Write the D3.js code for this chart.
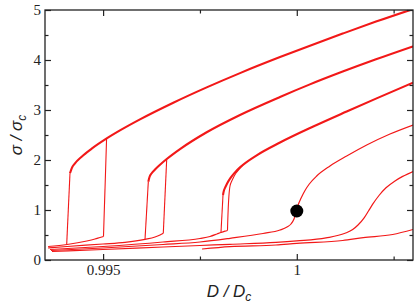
<!DOCTYPE html>
<html>
<head>
<meta charset="utf-8">
<script src="https://cdn.jsdelivr.net/npm/d3@7/dist/d3.min.js"></script>
<style>
    body { margin: 0; background: #fff; }
</style>
</head>
<body>
<div id="chart"></div>
<script>
// points are [D/Dc, sigma/sigma_c]

// loop 1
let lower1 = [[0.99358, 0.27], [0.99407, 0.31], [0.99458, 0.38], [0.99479, 0.42], [0.99492, 0.45], [0.99501, 0.47]];
let jumpUp1 = [[0.99501, 0.47], [0.99509, 2.43]];
let jumpDown1 = [[0.99406, 0.31], [0.994145, 1.734]];
let upper1 = [[0.994145, 1.734], [0.994189, 1.834], [0.994274, 1.933], [0.994447, 2.067], [0.994706, 2.227],
    [0.995093, 2.431], [0.99548, 2.611], [0.995952, 2.812], [0.996812, 3.145], [0.997674, 3.452],
    [0.998534, 3.738], [0.999567, 4.058], [1.000323, 4.281], [1.001185, 4.528], [1.002045, 4.768], [1.003, 5.019]];

// loop 2
let lower2 = [[0.99358, 0.24], [0.99407, 0.27], [0.994997, 0.32], [0.995565, 0.354], [0.996082, 0.414],
    [0.99634, 0.46], [0.996469, 0.5], [0.996554, 0.534]];
let jumpUp2 = [[0.996554, 0.534], [0.996642, 2.019]];
let jumpDown2 = [[0.996082, 0.414], [0.996167, 1.566]];
let upper2 = [[0.996167, 1.566], [0.996198, 1.66], [0.996249, 1.73], [0.99634, 1.81], [0.996469, 1.905],
    [0.996642, 2.019], [0.996985, 2.218], [0.997674, 2.555], [0.998534, 2.901], [0.999567, 3.261],
    [1.000323, 3.507], [1.001185, 3.768], [1.002045, 4.014], [1.003, 4.273]];

// loop 3
let lower3 = [[0.993629, 0.21], [0.994997, 0.27], [0.996546, 0.36], [0.997501, 0.43], [0.997759, 0.47],
    [0.99794, 0.52], [0.998043, 0.55], [0.998147, 0.576], [0.998211, 0.59]];
let jumpUp3 = [[0.998211, 0.59], [0.998276, 1.48], [0.998327, 1.59], [0.998431, 1.74], [0.998611, 1.9]];
let jumpDown3 = [[0.998043, 0.55], [0.998095, 1.3]];
let upper3 = [[0.998095, 1.3], [0.998116, 1.38], [0.998147, 1.442], [0.998198, 1.526], [0.998276, 1.628],
    [0.998405, 1.753], [0.998534, 1.853], [0.998965, 2.094], [0.999567, 2.35], [1.000426, 2.67],
    [1.001288, 2.97], [1.002045, 3.228], [1.003, 3.546]];

// single valued curves
let curve4 = [[0.993655, 0.19], [0.994997, 0.24], [0.996546, 0.31], [0.997501, 0.36], [0.998276, 0.434],
    [0.999128, 0.53], [0.999567, 0.6], [0.999747, 0.66], [0.99985, 0.72], [0.999928, 0.82], [0.999993, 0.98],
    [1.000044, 1.12], [1.000109, 1.234], [1.000212, 1.39], [1.000323, 1.52], [1.000514, 1.68], [1.000857, 1.88],
    [1.001288, 2.08], [1.001805, 2.3], [1.002406, 2.52], [1.003, 2.7]];
let curve5 = [[0.993681, 0.17], [0.994997, 0.21], [0.996546, 0.26], [0.997501, 0.29], [0.998276, 0.314],
    [0.999463, 0.352], [0.999998, 0.382], [1.000754, 0.442], [1.001245, 0.534], [1.001443, 0.608], [1.00158, 0.7],
    [1.001743, 0.848], [1.001851, 0.98], [1.00196, 1.116], [1.002122, 1.29], [1.002303, 1.444], [1.002535, 1.582],
    [1.002734, 1.672], [1.003, 1.77]];
let curve6 = [[0.997553, 0.22], [0.998276, 0.266], [0.999463, 0.3], [1.0, 0.334], [1.001185, 0.39],
    [1.001717, 0.446], [1.002476, 0.51], [1.003, 0.61]];

let critical = [[1.0, 0.98]];

let xMajor = [0.995, 1.0];
let xMinor = [0.9975, 1.0025];
let yMajor = [0, 1, 2, 3, 4, 5];
let yMinor = [0.5, 1.5, 2.5, 3.5, 4.5];

let width = 416;
let height = 305;
let mLeft = 45, mRight = 413, mTop = 10, mBottom = 260;

let svg = d3.select("#chart").append("svg")
    .attr("width", width)
    .attr("height", height);

let x = d3.scaleLinear().domain([0.9935, 1.003]).range([mLeft, mRight]);
let y = d3.scaleLinear().domain([0, 5]).range([mBottom, mTop]);

svg.append("clipPath").attr("id", "plot-clip")
    .append("rect")
    .attr("x", mLeft).attr("y", mTop)
    .attr("width", mRight - mLeft).attr("height", mBottom - mTop);

let smooth = d3.line().x(d => x(d[0])).y(d => y(d[1])).curve(d3.curveMonotoneX);
let straight = d3.line().x(d => x(d[0])).y(d => y(d[1])).curve(d3.curveCatmullRom.alpha(0.5));

let plot = svg.append("g").attr("clip-path", "url(#plot-clip)");

let branches = [
    {pts: lower1, line: smooth, w: 1.2}, {pts: upper1, line: smooth, w: 2.1},
    {pts: jumpUp1, line: straight, w: 1.1}, {pts: jumpDown1, line: straight, w: 1.1},
    {pts: lower2, line: smooth, w: 1.2}, {pts: upper2, line: smooth, w: 2.1},
    {pts: jumpUp2, line: straight, w: 1.1}, {pts: jumpDown2, line: straight, w: 1.1},
    {pts: lower3, line: smooth, w: 1.2}, {pts: upper3, line: smooth, w: 2.1},
    {pts: jumpUp3, line: straight, w: 1.1}, {pts: jumpDown3, line: straight, w: 1.1},
    {pts: curve4, line: smooth, w: 1.2}, {pts: curve5, line: smooth, w: 1.2}, {pts: curve6, line: smooth, w: 1.2}
];

plot.selectAll("path.branch")
    .data(branches)
    .enter()
    .append("path")
    .classed("branch", true)
    .attr("d", d => d.line(d.pts))
    .attr("fill", "none")
    .attr("stroke", "#f21818")
    .attr("stroke-width", d => d.w)
    .attr("stroke-linejoin", "round");

svg.selectAll("circle")
    .data(critical)
    .enter()
    .append("circle")
    .attr("cx", d => x(d[0]))
    .attr("cy", d => y(d[1]))
    .attr("r", 6.5)
    .style("fill", "#000");

// axes, ticks pointing inward
function tickAxis(axis, pos, values, size, labels) {
    let g = svg.append("g")
        .attr("transform", pos)
        .call(axis.tickValues(values).tickSizeInner(-size).tickSizeOuter(0)
            .tickPadding(labels ? 4 : 0)
            .tickFormat(labels ? labels : () => ""));
    g.select(".domain").remove();
    g.selectAll(".tick line").attr("stroke", "#222").attr("stroke-width", 1.2);
    g.selectAll(".tick text")
        .style("font-family", "'Liberation Serif', 'DejaVu Serif', serif")
        .style("font-size", "15px")
        .style("fill", "#222");
    return g;
}

let xFmt = d => d === 1 ? "1" : d3.format(".3f")(d);
tickAxis(d3.axisBottom(x), `translate(0,${mBottom})`, xMajor, 6, xFmt);
tickAxis(d3.axisBottom(x), `translate(0,${mBottom})`, xMinor, 3.5, null);
tickAxis(d3.axisTop(x), `translate(0,${mTop})`, xMajor, 6, null);
tickAxis(d3.axisTop(x), `translate(0,${mTop})`, xMinor, 3.5, null);
tickAxis(d3.axisLeft(y), `translate(${mLeft},0)`, yMajor, 6, d3.format("d"));
tickAxis(d3.axisLeft(y), `translate(${mLeft},0)`, yMinor, 3.5, null);
tickAxis(d3.axisRight(y), `translate(${mRight},0)`, yMajor, 6, null);
tickAxis(d3.axisRight(y), `translate(${mRight},0)`, yMinor, 3.5, null);

svg.append("rect")
    .attr("x", mLeft).attr("y", mTop)
    .attr("width", mRight - mLeft).attr("height", mBottom - mTop)
    .attr("fill", "none")
    .attr("stroke", "#222")
    .attr("stroke-width", 1.3);

function axisLabel(text, transform) {
    let t = svg.append("text")
        .attr("transform", transform)
        .attr("text-anchor", "middle")
        .style("font-family", "'Liberation Sans', sans-serif")
        .style("font-style", "italic")
        .style("font-size", "17px")
        .style("fill", "#222");
    t.append("tspan").text(text);
    t.append("tspan").style("font-size", "12px").attr("dy", 3.5).text("c");
    return t;
}

axisLabel("D / D", "translate(229,297)");
axisLabel("σ / σ", "translate(22,135) rotate(-90)");
</script>
</body>
</html>
